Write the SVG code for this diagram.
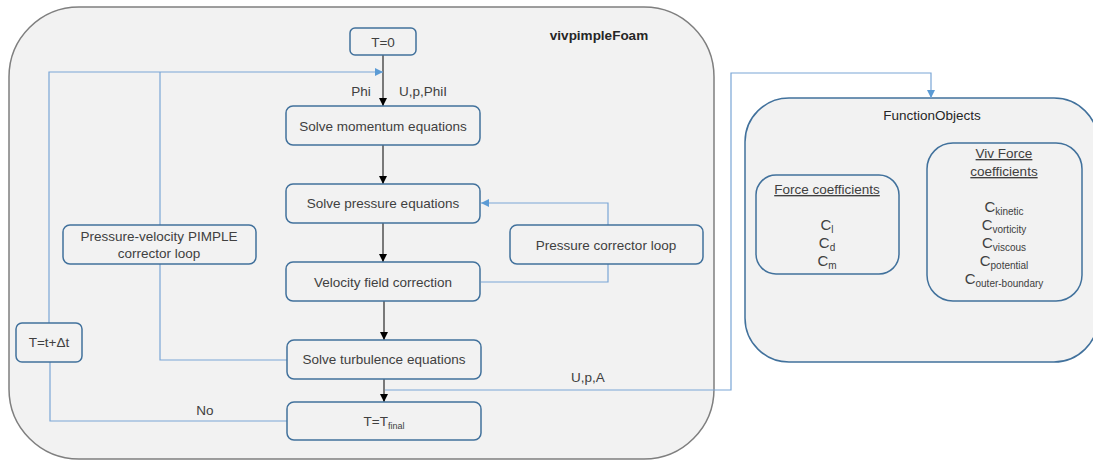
<svg xmlns="http://www.w3.org/2000/svg" width="1093" height="461" viewBox="0 0 1093 461">
<style>
text{font-family:"Liberation Sans",Arial,sans-serif;font-size:13.5px;fill:#404040;text-anchor:middle}
.box{fill:#f2f2f2;stroke:#41719c;stroke-width:1.5}
.blk{fill:none;stroke:#000;stroke-width:1}
.blu{fill:none;stroke:#7aa6d6;stroke-width:1.2}
.sub{font-size:9px}
.c{font-size:15px}
.cs{font-size:10px}
.ul{text-decoration:underline}
</style>
<defs>
<marker id="ab" markerUnits="userSpaceOnUse" markerWidth="8" markerHeight="8" refX="8" refY="4" orient="auto"><path d="M0,0 L8,4 L0,8 z" fill="#000"/></marker>
<marker id="au" markerUnits="userSpaceOnUse" markerWidth="8" markerHeight="8" refX="8" refY="4" orient="auto"><path d="M0,0 L8,4 L0,8 z" fill="#5b9bd5"/></marker>
</defs>
<g id="container-vivpimpleFoam">
<rect x="9" y="7" width="705" height="452" rx="70" fill="#f2f2f2" stroke="#7f7f7f" stroke-width="1.5"/>
<text x="599" y="40" style="font-weight:bold;fill:#262626;font-size:13.5px">vivpimpleFoam</text>
</g>
<g id="container-FunctionObjects">
<rect x="745" y="98" width="353" height="264" rx="44" fill="#f2f2f2" stroke="#41719c" stroke-width="1.5"/>
<text x="932" y="120" style="fill:#262626">FunctionObjects</text>
</g>
<g id="connectors">
<line class="blk" x1="383" y1="55" x2="383" y2="106" marker-end="url(#ab)"/>
<line class="blk" x1="383" y1="145" x2="383" y2="184" marker-end="url(#ab)"/>
<line class="blk" x1="383" y1="223" x2="383" y2="262" marker-end="url(#ab)"/>
<line class="blk" x1="384" y1="301" x2="384" y2="340" marker-end="url(#ab)"/>
<line class="blk" x1="384" y1="379" x2="384" y2="402" marker-end="url(#ab)"/>
<polyline class="blu" points="49,323 49,72 383,72" marker-end="url(#au)"/>
<line class="blu" x1="160" y1="72" x2="160" y2="225"/>
<polyline class="blu" points="160,264 160,360 287,360"/>
<polyline class="blu" points="287,421 50,421 50,362"/>
<polyline class="blu" points="481,282 608,282 608,264"/>
<polyline class="blu" points="608,225 608,203 481,203" marker-end="url(#au)"/>
<polyline class="blu" points="385,390 731,390 731,73 931,73 931,98" marker-end="url(#au)"/>
<text x="361" y="96">Phi</text>
<text x="423" y="96">U,p,PhiI</text>
<text x="588" y="382">U,p,A</text>
<text x="205" y="415">No</text>
</g>
<g id="node-T0">
<rect class="box" x="350" y="28" width="66" height="27" rx="5"/>
<text x="383" y="47">T=0</text>
</g>
<g id="node-momentum">
<rect class="box" x="286" y="106" width="194" height="39" rx="7"/>
<text x="383" y="131">Solve momentum equations</text>
</g>
<g id="node-pressure">
<rect class="box" x="286" y="184" width="194" height="39" rx="7"/>
<text x="383" y="208">Solve pressure equations</text>
</g>
<g id="node-velocity">
<rect class="box" x="286" y="262" width="194" height="39" rx="7"/>
<text x="383" y="287">Velocity field correction</text>
</g>
<g id="node-pimple">
<rect class="box" x="63" y="225" width="193" height="39" rx="7"/>
<text x="159" y="241">Pressure-velocity PIMPLE</text>
<text x="159" y="258">corrector loop</text>
</g>
<g id="node-pcorr">
<rect class="box" x="510" y="225" width="193" height="39" rx="7"/>
<text x="606" y="250">Pressure corrector loop</text>
</g>
<g id="node-turbulence">
<rect class="box" x="287" y="340" width="194" height="39" rx="7"/>
<text x="384" y="364">Solve turbulence equations</text>
</g>
<g id="node-Tfinal">
<rect class="box" x="287" y="402" width="194" height="38" rx="7"/>
<text x="384" y="426">T=T<tspan class="sub" dy="3">final</tspan></text>
</g>
<g id="node-Tstep">
<rect class="box" x="16" y="323" width="66" height="39" rx="6"/>
<text x="49" y="347">T=t+Δt</text>
</g>
<g id="node-force">
<rect class="box" x="756" y="175" width="143" height="99" rx="20"/>
<text x="827" y="194" class="ul">Force coefficients</text>
<text x="827" y="230" class="c">C<tspan class="cs" dy="3">l</tspan></text>
<text x="827" y="248" class="c">C<tspan class="cs" dy="3">d</tspan></text>
<text x="827" y="266" class="c">C<tspan class="cs" dy="3">m</tspan></text>
</g>
<g id="node-vivforce">
<rect class="box" x="927" y="143" width="155" height="158" rx="26"/>
<text x="1004" y="158" class="ul">Viv Force</text>
<text x="1004" y="176" class="ul">coefficients</text>
<text x="1004" y="212" class="c">C<tspan class="cs" dy="3">kinetic</tspan></text>
<text x="1004" y="230" class="c">C<tspan class="cs" dy="3">vorticity</tspan></text>
<text x="1004" y="248" class="c">C<tspan class="cs" dy="3">viscous</tspan></text>
<text x="1004" y="266" class="c">C<tspan class="cs" dy="3">potential</tspan></text>
<text x="1004" y="284" class="c">C<tspan class="cs" dy="3">outer-boundary</tspan></text>
</g>
</svg>
